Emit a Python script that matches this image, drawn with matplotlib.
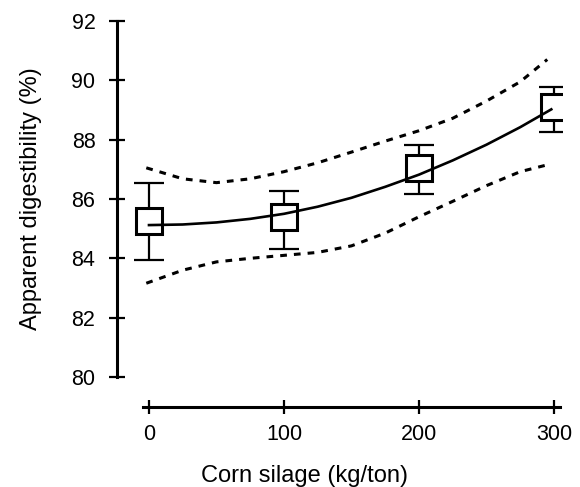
import numpy as np
import matplotlib
matplotlib.use('Agg')
import matplotlib.pyplot as plt

plt.rcParams['font.family'] = ['Liberation Sans', 'DejaVu Sans']

# Treatment means with error bars
silage = [0, 100, 200, 300]
digest_mean = [85.25, 85.38, 87.04, 89.10]
err_low = [83.93, 84.31, 86.16, 88.25]
err_high = [86.54, 86.28, 87.83, 89.76]

# Fitted curve and confidence band
curve_x = [0, 25, 50, 75, 100, 125, 150, 175, 200, 225, 250, 275, 298]
curve_fit = [85.12, 85.14, 85.21, 85.33, 85.50, 85.74, 86.04, 86.41, 86.82, 87.30, 87.83, 88.42, 89.02]
band_x = [-2, 25, 50, 75, 100, 125, 150, 175, 200, 225, 250, 275, 295]
band_upper = [87.05, 86.68, 86.55, 86.68, 86.92, 87.22, 87.58, 87.95, 88.30, 88.72, 89.30, 89.95, 90.70]
band_lower = [83.16, 83.60, 83.88, 84.00, 84.10, 84.20, 84.42, 84.85, 85.40, 85.92, 86.45, 86.92, 87.15]

fig = plt.figure(figsize = (5.8, 4.87), dpi = 100)
ax = fig.add_axes([0.2017, 0.1643, 0.7672, 0.8049])

mean = np.array(digest_mean)
yerr = [mean - np.array(err_low), np.array(err_high) - mean]

# error bars, then open squares on top
ax.errorbar(silage, digest_mean, yerr = yerr, fmt = 'none', ecolor = 'black',
            elinewidth = 1.6, capsize = 10.5, capthick = 1.6, zorder = 2)
ax.plot(silage, digest_mean, 's', ms = 18.5, mfc = 'white', mec = 'black', mew = 2.2, zorder = 3)

# fitted curve and dotted confidence limits
ax.plot(curve_x, curve_fit, '-', color = 'black', lw = 1.9, zorder = 4)
ax.plot(band_x, band_upper, color = 'black', lw = 2.2, dashes = (2.2, 2.3), zorder = 4)
ax.plot(band_x, band_lower, color = 'black', lw = 2.2, dashes = (2.2, 2.3), zorder = 4)

ax.set_xlim(-23.7, 305.9)
ax.set_ylim(78.99, 92.2)

ax.spines['right'].set_visible(False)
ax.spines['top'].set_visible(False)
ax.spines['left'].set_linewidth(2.2)
ax.spines['bottom'].set_linewidth(2.2)
ax.spines['left'].set_bounds(80, 92)
ax.spines['bottom'].set_bounds(-4.4, 304.4)

ax.set_xticks(silage)
ax.set_yticks(range(80, 93, 2))
ax.tick_params(axis = 'y', direction = 'inout', length = 12, width = 1.6, pad = 9.5, labelsize = 15.5)
ax.tick_params(axis = 'x', direction = 'inout', length = 10, width = 1.6, pad = 7, labelsize = 15.5)

ax.set_xlabel('Corn silage (kg/ton)', fontsize = 17, va = 'center')
ax.set_ylabel('Apparent digestibility (%)', fontsize = 17, va = 'center')
ax.xaxis.set_label_coords(0.4225, -0.175)
ax.yaxis.set_label_coords(-0.193, 0.531)

fig.savefig('out.png', dpi = 100)
